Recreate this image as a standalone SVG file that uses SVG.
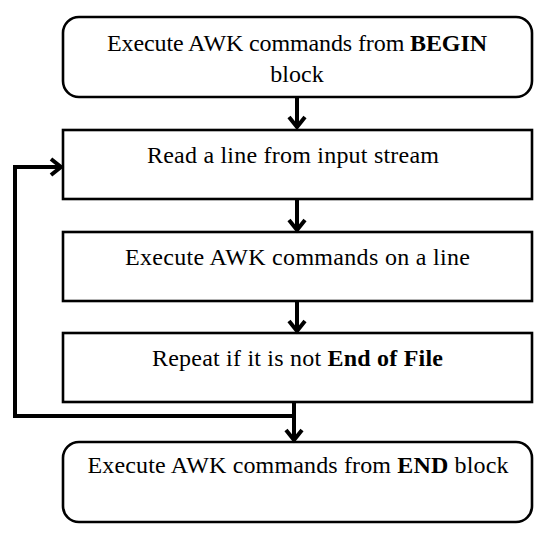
<svg xmlns="http://www.w3.org/2000/svg" width="551" height="540" viewBox="0 0 551 540">
<style>
.box{fill:#fff;stroke:#000;stroke-width:2.6}
.lbl{font-family:"Liberation Serif","Times New Roman",serif;font-size:24px;fill:#000;text-anchor:middle}
.b{font-weight:bold}
.con{fill:none;stroke:#000;stroke-width:4}
</style>
<defs>
<marker id="ah" markerUnits="userSpaceOnUse" markerWidth="24" markerHeight="24" viewBox="-12 -12 24 24" refX="0" refY="0" orient="auto">
<path d="M-10,-8 L0,0 L-10,8" fill="none" stroke="#000" stroke-width="4" stroke-linejoin="miter"/>
</marker>
</defs>
<rect width="551" height="540" fill="#fff"/>
<g id="n1">
<rect class="box" x="63" y="17" width="469" height="80" rx="16"/>
<text class="lbl" x="297" y="51" textLength="380" lengthAdjust="spacing">Execute AWK commands from <tspan class="b">BEGIN</tspan></text>
<text class="lbl" x="297" y="82">block</text>
</g>
<g id="n2">
<rect class="box" x="63" y="130" width="469" height="69"/>
<text class="lbl" x="293" y="163" textLength="292" lengthAdjust="spacing">Read a line from input stream</text>
</g>
<g id="n3">
<rect class="box" x="63" y="232" width="469" height="69"/>
<text class="lbl" x="297.5" y="265" textLength="345" lengthAdjust="spacing">Execute AWK commands on a line</text>
</g>
<g id="n4">
<rect class="box" x="63" y="333" width="469" height="69"/>
<text class="lbl" x="297.5" y="366" textLength="291" lengthAdjust="spacing">Repeat if it is not <tspan class="b">End of File</tspan></text>
</g>
<g id="n5">
<rect class="box" x="63" y="442" width="469" height="80" rx="16"/>
<text class="lbl" x="298" y="473" textLength="421" lengthAdjust="spacing">Execute AWK commands from <tspan class="b">END</tspan> block</text>
</g>
<g id="connectors">
<path class="con" d="M297,97 V127" marker-end="url(#ah)"/>
<path class="con" d="M297,199 V230" marker-end="url(#ah)"/>
<path class="con" d="M297,301 V331" marker-end="url(#ah)"/>
<path class="con" d="M294,402 V440" marker-end="url(#ah)"/>
<path class="con" d="M294,416 H15 V167 H61" stroke-linejoin="miter" marker-end="url(#ah)"/>
</g>
</svg>
